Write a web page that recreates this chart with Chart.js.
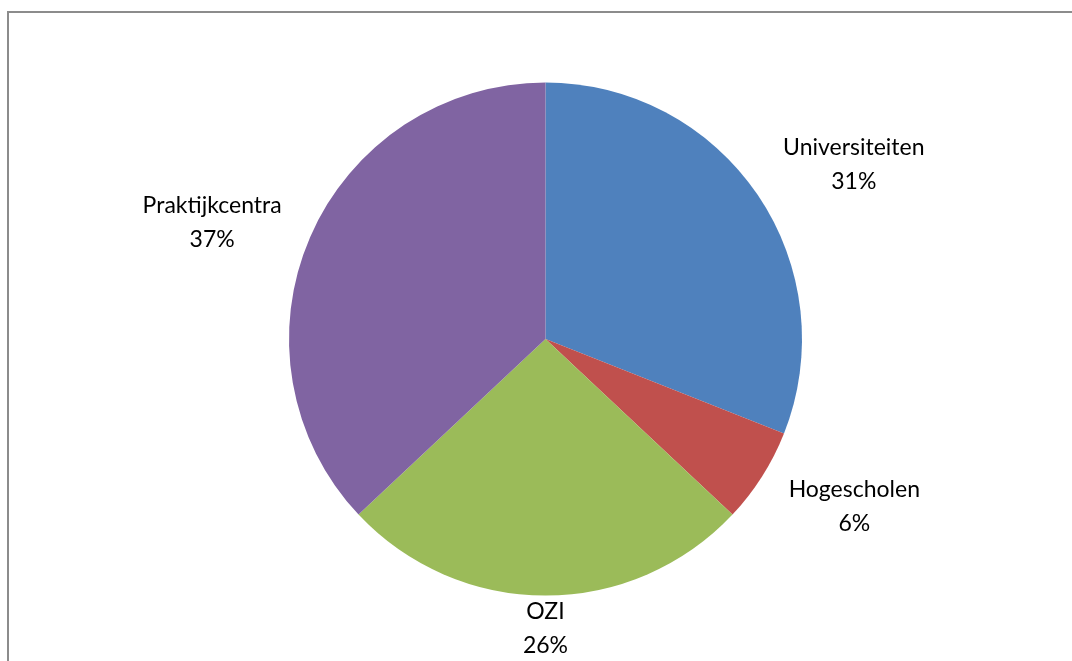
<!DOCTYPE html>
<html>
<head>
<meta charset="utf-8">
<script src="https://cdn.jsdelivr.net/npm/chart.js@4"></script>
<style>
  html, body { margin: 0; padding: 0; background: #fff; overflow: hidden; }
  #wrap { position: relative; width: 1072px; height: 661px; }
  #frame { position: absolute; left: 7px; top: 11px; width: 1100px; height: 700px;
           border-top: 2px solid #8c8c8c; border-left: 2px solid #8c8c8c; }
  #pie-chart { position: absolute; left: 0; top: 0; }
</style>
</head>
<body>
<div id="wrap">
  <div id="frame"></div>
  <canvas id="pie-chart" width="1072" height="661"></canvas>
</div>
<script>
var categories = ['Universiteiten', 'Hogescholen', 'OZI', 'Praktijkcentra'];
var shares = [31, 6, 26, 37];
var sliceColors = ['#4F81BD', '#C0504D', '#9BBB59', '#8064A2'];

// label placement around the pie: angle nudge (deg) and distance as a factor of the radius
var labelPlace = [[4.7, 1.381], [-3.9, 1.370], [0, 1.128], [-4.1, 1.377]];

var sliceLabels = {
  id: 'sliceLabels',
  afterDatasetsDraw: function (chart) {
    var ctx = chart.ctx;
    var meta = chart.getDatasetMeta(0);
    ctx.save();
    ctx.font = '23px Lato, "Open Sans", sans-serif';
    ctx.fillStyle = '#000';
    ctx.textAlign = 'center';
    ctx.textBaseline = 'middle';
    meta.data.forEach(function (arc, i) {
      var mid = (arc.startAngle + arc.endAngle) / 2 + labelPlace[i][0] * Math.PI / 180;
      var d = arc.outerRadius * labelPlace[i][1];
      var x = arc.x + Math.cos(mid) * d;
      var y = arc.y + Math.sin(mid) * d;
      ctx.fillText(categories[i], x, y - 17);
      ctx.fillText(shares[i] + '%', x, y + 17);
    });
    ctx.restore();
  }
};

var chartEl = document.getElementById('pie-chart');
var pieChart = new Chart(chartEl, {
  type: 'pie',
  data: {
    labels: categories,
    datasets: [{
      data: shares,
      backgroundColor: sliceColors,
      borderWidth: 0
    }]
  },
  options: {
    responsive: false,
    animation: false,
    layout: { padding: { left: 289, right: 270, top: 82, bottom: 65 } },
    plugins: {
      legend: { display: false },
      tooltip: { enabled: false }
    }
  },
  plugins: [sliceLabels]
});
</script>
</body>
</html>
